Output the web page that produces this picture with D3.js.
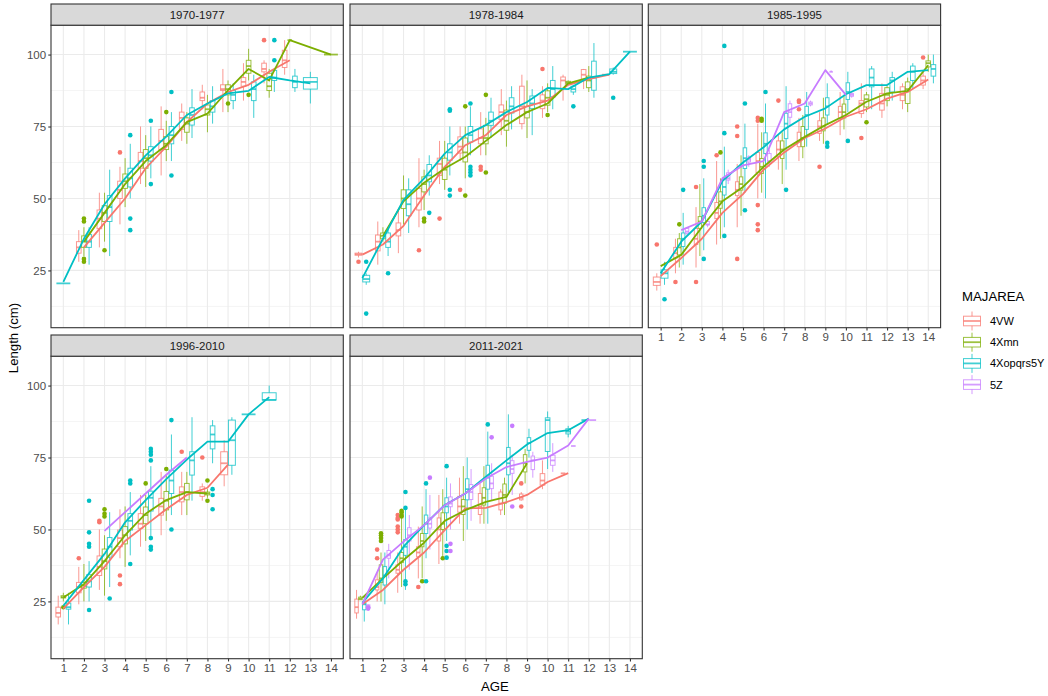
<!DOCTYPE html>
<html><head><meta charset="utf-8">
<script src="https://cdn.jsdelivr.net/npm/d3@7"></script>
<style>body{margin:0;background:#fff} svg text{font-family:"Liberation Sans",Arial,Helvetica,sans-serif}</style>
</head><body><svg id="c" width="1048" height="696"></svg>
<script>
// ---------------- DATA ----------------
const periods = ["1970-1977","1978-1984","1985-1995","1996-2010","2011-2021"];
const areas = ["4VW","4Xmn","4Xopqrs5Y","5Z"];          // area index 0..3
const areaColors = ["#F8766D","#7CAE00","#00BFC4","#C77CFF"];
const ageTicks = [1,2,3,4,5,6,7,8,9,10,11,12,13,14];
const lengthTicks = [25,50,75,100];
const lengthMinor = [12.5,37.5,62.5,87.5];

// boxes: [area, AGE, lower whisker, Q1, median, Q3, upper whisker]
const boxes_1970_1977 = [
 [2,1,20.5,20.5,20.5,20.5,20.5],
 [0,2,28,31,33,35,39],[1,2,30,33,35,37,40],[2,2,27,33,35,37.5,40],
 [0,3,33,39.5,43,46,52],[1,3,35,42,45,47.5,52],[2,3,30,42,47,51,60],
 [0,4,41,50,53,56,61],[1,4,47,53.5,56,58.5,64],[2,4,50,54,57,60.5,69],
 [0,5,55,60.5,63,66,75],[1,5,54,60.5,64,67,72],[2,5,57,63,65,68,75],
 [0,6,58,67,70,74,82],[1,6,63,67,69,71.5,77],[2,6,63,69,72,75,80],
 [0,7,70,74,78,80,83],[1,7,69,73,76,78,80],[2,7,71,75.5,79,81.5,88],
 [0,8,81,84,85,87,89.5],[1,8,73,79,81,82.5,86],[2,8,76,80,82,84,89],
 [0,9,80,87.5,88,89.5,95],[1,9,80,86,88,89.5,91],[2,9,81,84,86,87.5,90],
 [0,10,84,89,90.5,92,97],[1,10,91,93.5,96,98,102],[2,10,78,84,88,90.5,93],
 [0,11,90,94,95,97,98],[1,11,85,87.5,89,93.5,95],[2,11,87,91,92,94.5,95],
 [0,12,93,95.5,98,101.5,105],[1,12,105,105,105,105,105],[2,12,87,88.5,90.5,92.5,95],
 [2,13,83,88,90.5,92,94],
 [1,14,100,100,100,100,100]
];
// outliers: [area, AGE, length]
const outliers_1970_1977 = [
 [1,2,42],[1,2,43],[1,2,28],[1,2,29],[1,3,32],[0,4,66],[2,4,72],[2,4,43],[2,4,39],
 [2,5,77],[2,5,55],[1,6,80],[2,6,87],[2,6,58],[1,9,83],[1,10,86],[0,11,105],[2,11,105],[2,11,98]
];
// smoothed trend: [area, AGE, length]
const smooth_1970_1977 = [
 [0,2,33],[0,3,41.5],[0,4,50],[0,5,60.5],[0,6,68],[0,7,76.5],[0,8,83],[0,9,87],[0,10,89.5],[0,11,94],[0,12,98],
 [1,2,35],[1,3,45],[1,4,55],[1,5,63],[1,6,68.5],[1,7,76.5],[1,8,79.5],[1,9,87.6],[1,10,95],[1,11,91],[1,12,105],[1,13,102.5],[1,14,100],
 [2,1,21],[2,2,36],[2,3,48],[2,4,57],[2,5,65],[2,6,71.5],[2,7,79],[2,8,83],[2,9,86.5],[2,10,87.4],[2,11,92.2],[2,12,91],[2,13,90]
];

const boxes_1978_1984 = [
 [0,1,29.5,30.3,30.6,31,31.5],[2,1,20,21,22,23.3,24],
 [0,2,27,31.8,35,37.3,42],[1,2,35,36,37,38,40],[2,2,30,33,35,38,40],
 [0,3,31,37,39,41.5,46],[1,3,41,46.5,50,53,58],[2,3,38,44,48,53,57],
 [0,4,40,46,50,53.5,64],[1,4,46,52.3,55,57.5,60],[2,4,51,55.8,58,61.8,65],
 [0,5,55,58,62,64,70],[1,5,53,56.6,60,64,70],[2,5,58,63.3,66,69,75],
 [0,6,63,65.8,68,71.4,75],[1,6,57,62.7,66,71,75],[2,6,65,69.6,72,75,82],
 [0,7,65,69,71,74.2,80],[1,7,65,69,71,75.4,78],[2,7,71,75.4,77,80,85],
 [0,8,72,77.5,80,82.5,88],[1,8,68,73.7,77,80.7,84],[2,8,74,79.7,82,85,89],
 [0,9,74,76,82,89,93],[1,9,71,78,80,82,91],[2,9,72,81.2,83,85.6,88],
 [0,10,78,81.2,84,86,89],[1,10,80,82.4,85,87.4,90],[2,10,81,85.3,88,91,96],
 [0,11,84,88.2,91,92.2,93],[1,11,89.5,90,90.3,90.7,91],[2,11,86,87,88,89,89.5],
 [0,12,88,91.4,93,94.8,95],[1,12,87,88.5,91,92.5,96],[2,12,85,87.6,92,97.7,104],
 [0,13,93,93,93,93,93],[2,13,93,93.4,94,95,95.5],
 [2,14,101,101,101,101,101]
];
const outliers_1978_1984 = [
 [0,1,28],[2,1,28],[2,1,10],[2,2,24],[0,4,32],[1,4,43],[1,4,42],[2,4,45],[0,5,43],
 [2,5,81],[2,5,80.5],[2,5,53],[2,5,51],[0,6,53],[1,6,82],[1,6,51],
 [2,6,83],[2,6,61],[2,6,60],[2,6,59],[2,6,58],[0,7,61],[0,7,60],[1,7,86],[1,7,59],
 [0,10,95],[1,10,79],[2,11,82],[2,13,85]
];
const smooth_1978_1984 = [
 [0,1,30.5],[0,2,34],[0,3,40.5],[0,4,51],[0,5,61],[0,6,68.5],[0,7,72],[0,8,79],[0,9,82],[0,10,84],[0,11,89.5],[0,12,91.5],[0,13,93],
 [1,2,37],[1,3,49],[1,4,55.5],[1,5,60.4],[1,6,64.5],[1,7,70],[1,8,75.5],[1,9,80],[1,10,83],[1,11,90],[1,12,92],
 [2,1,22.3],[2,2,36],[2,3,49.5],[2,4,57],[2,5,65.6],[2,6,72],[2,7,75.5],[2,8,80],[2,9,83.5],[2,10,88.4],[2,11,88],[2,12,92],[2,13,93.2],[2,14,101]
];

const boxes_1985_1995 = [
 [0,1,18,19.8,21,22.7,24],[2,1,20,22.3,24,25.2,28],
 [0,2,24,29.3,31,33,36],[1,2,26,30.4,33,36,38],[2,2,27,33.3,36,38,45],[3,2,37,37.9,38.5,39.6,40],
 [0,3,26,34,36,39.6,47],[1,3,30,39.6,42,43.7,55],[2,3,32,41.7,44,46.8,57],[3,3,40,40.8,41,42,43],
 [0,4,34,43,45,48.6,63],[1,4,36,46.6,49,52.3,57],[2,4,40,51.2,54,57,68],[3,4,55,56.4,57,58.9,60],
 [0,5,40,51,53,55.8,62],[1,5,44,52.9,55,57.5,65],[2,5,52,60.4,64,67.6,76],[3,5,61,62.7,63.5,64.4,65],
 [0,6,50,59,63,66,76],[1,6,52,58.7,61,63.9,73],[2,6,50,65.6,69,72.8,83],[3,6,61,62.6,63,65.6,67],
 [0,7,60,64.5,67,70,72],[1,7,55,63.9,67,70,73],[2,7,60,70.8,76,79.6,89],[3,7,75,78.2,80,82.9,84],
 [0,8,63,68,70,73,78],[1,8,64,68,71,75,79],[2,8,68,74,79,82,87],[3,8,82,82.5,83,83.5,84],
 [0,9,70,72.6,75,77,80],[1,9,69,73.5,75,78,85],[2,9,76,79,82,85,90],[3,9,94,94,94,94,94.5],
 [0,10,72,77.8,80,82,87],[1,10,74,78,80,82.8,86],[2,10,80,84.4,87,90.2,94],[3,10,85,85.5,86,86.5,87],
 [0,11,78,79.5,83,84,90],[1,11,80,81.8,84.5,86,87],[2,11,81,88.8,92,95,96],
 [0,12,78,80.7,83,86.5,90],[1,12,82,84,86,88.5,89],[2,12,84,87,91,92,94],
 [0,13,81,84,86,88.8,90],[1,13,80,83,88,90.5,92],[2,13,88,91,94,96,97],
 [0,14,88,89.4,91,92.5,94],[1,14,94,95.7,97,97.8,100],[2,14,90,92.5,95,96.5,100]
];
const outliers_1985_1995 = [
 [0,1,34],[2,1,15],[0,2,21],[1,2,41],[2,2,53],[0,3,54],[0,3,21],[2,3,63],[2,3,61],[2,3,29],
 [0,4,65],[1,4,66],[2,4,103],[2,4,72.7],[2,4,37],[0,5,75],[0,5,71.7],[0,5,29],[2,5,83],[2,5,45.9],
 [0,6,78],[0,6,77],[0,6,47.7],[0,6,41],[0,6,39],[1,6,77.7],[1,6,77],[2,6,87],
 [0,7,84],[2,7,53],[0,8,84],[0,8,83.5],[0,8,81],[0,9,61],[2,9,69.3],[2,9,68],[2,10,70],
 [0,11,71],[1,11,76.5],[0,14,99]
];
const smooth_1985_1995 = [
 [0,1,23],[0,2,29.3],[0,3,36],[0,4,45],[0,5,51.5],[0,6,60],[0,7,66],[0,8,71],[0,9,74.3],[0,10,78.4],[0,11,81],[0,12,84.7],[0,13,87],[0,14,91.3],
 [1,1,26.5],[1,2,30.4],[1,3,40],[1,4,49],[1,5,54],[1,6,61],[1,7,67],[1,8,71.4],[1,9,75.5],[1,10,79],[1,11,83.6],[1,12,86.5],[1,13,87.4],[1,14,96.3],
 [2,1,24],[2,2,35],[2,3,42],[2,4,56],[2,5,62.5],[2,6,67.8],[2,7,74],[2,8,78.4],[2,9,81.3],[2,10,86.2],[2,11,89.4],[2,12,89.4],[2,13,94],[2,14,94.6],
 [3,2,39],[3,3,42],[3,4,57],[3,5,61.5],[3,6,63],[3,7,80],[3,8,83],[3,9,94.6],[3,10,86]
];

const boxes_1996_2010 = [
 [0,1,17,19.6,21,23,27],[1,1,25,26.2,26.5,27,28],[2,1,17,22.3,23,24.4,28],
 [0,2,24,28,30,31.6,37],[1,2,25,29.6,30.5,31.6,38],[2,2,25,30,32,34.3,39],
 [0,3,29,34,37,40.8,50],[1,3,27,36.3,39,43.2,48],[2,3,30,40.4,44,47.2,56],
 [0,4,40,44,47,49.8,57],[1,4,37,45,48,51,58],[2,4,41,49.8,53,55.5,63],
 [0,5,44,50.4,52,55.5,62],[1,5,46,52,55,57.8,62],[2,5,47,56.4,61,63.3,72],
 [0,6,48,55,58,60.8,70],[1,6,53,56.8,60,63.2,69],[2,6,55,62.5,67,70.6,83],
 [0,7,55,59.6,63,64.8,70],[1,7,55,60.3,63,66,70],[2,7,60,68.9,74,77,89],
 [0,8,60,61.5,63,64.8,66],[1,8,61,62,62.5,63,64],[2,8,73,78,83,86,88],
 [0,9,65,69,73,77,81],[2,9,69,72.3,81,88,89],
 [2,10,90,90,90,90,90],
 [2,11,95,95,95,97.5,100]
];
const outliers_1996_2010 = [
 [1,1,23],[0,2,40],[2,2,60],[2,2,49],[2,2,45],[2,2,44],[2,2,22],[0,3,53],[0,3,52.5],
 [1,3,57],[1,3,55.5],[1,3,54.5],[2,3,26],[0,4,34],[0,4,31],[2,4,67],[2,4,66],[2,4,38],
 [1,5,66],[2,5,78],[2,5,77],[2,5,76],[2,5,74],[2,5,47],[2,5,44],[2,5,43],[1,6,71],[2,6,88],[2,6,50],
 [0,7,77],[0,8,75],[1,8,67],[1,8,60],[2,8,64],[2,8,62],[2,8,57]
];
const smooth_1996_2010 = [
 [0,1,22.5],[0,2,30],[0,3,37],[0,4,46],[0,5,51.5],[0,6,57],[0,7,62],[0,8,64.5],[0,9,72.5],
 [1,1,26.4],[1,2,31],[1,3,39],[1,4,48],[1,5,55.5],[1,6,60.2],[1,7,63],[1,8,62.5],
 [2,1,23.5],[2,2,32.5],[2,3,41.5],[2,4,52.5],[2,5,60.2],[2,6,67.5],[2,7,74.3],[2,8,80.5],[2,9,80.5],[2,10,90],[2,11,96],
 [3,3,49.5],[3,4,56],[3,5,62.5],[3,6,69],[3,7,75]
];

const boxes_2011_2021 = [
 [0,1,19,21,23,25.8,29],[1,1,25.5,25.6,26,26.5,27],[2,1,18,22.1,24,24.4,27],[3,1,22.5,22.8,23,23.8,24],
 [0,2,25,29,30,32.5,35],[1,2,25,31.6,33,37.7,42],[2,2,24,30.7,34,37.1,42],[3,2,33,40,41,42.7,45],
 [0,3,28,34.8,36,37.7,42],[1,3,30,38.5,40,42,55],[2,3,29,41,44,46.5,57],[3,3,36,46,48,50.6,55],
 [0,4,33,40.5,42,44,51],[1,4,33,44,46,48.6,58],[2,4,40,48.6,52,55,64],[3,4,43,50.5,52,54,62],
 [0,5,38,46,50,54,62],[1,5,40,50,52,55.8,64],[2,5,46,55.8,58,61,68],[3,5,50,57.9,59,61.3,66],
 [0,6,52,56,58,61.5,68],[1,6,46,55.2,58,60.4,72],[2,6,50,60.3,64,67.6,75],[3,6,53,60.4,63,65.6,71],
 [0,7,52,55.2,58,62.5,66],[1,7,52,58.5,61,64.5,72],[2,7,52,64,68,72.3,84],[3,7,60,64.2,66,68.5,73],
 [0,8,55,56.8,59,63,64],[1,8,55,59.1,62,65.8,68],[2,8,62,69,73,78.5,90],[3,8,62,69.5,71,73.9,76],
 [0,9,60,60.3,61,62.3,63],[1,9,66,70,73,76,78],[2,9,75,77.5,80,81.9,85],[3,9,68,70.8,74,75.5,77],
 [0,10,64,65.4,67,69.4,74],[2,10,71,77.1,88,88.8,91],[3,10,70,72.3,74,75.8,80],
 [0,11,69.5,69.5,69.5,69.5,69.5],[2,11,82,83.2,84,85,86],[3,11,79,79,79,79,79],
 [2,12,88,88,88,88,88],[3,12,88,88,88,88,88]
];
const outliers_2011_2021 = [
 [3,1,23],[3,1,22.5],[0,2,43],[0,2,40],[1,2,48.7],[1,2,48],[1,2,47],[1,2,46],
 [0,3,55],[0,3,54],[0,3,53.5],[0,3,51],[0,3,50],[0,3,49],[1,3,56.5],[1,3,56],[1,3,55],[1,3,54.5],
 [2,3,63],[2,3,57.5],[2,3,32],[2,3,31],[0,4,30],[1,4,32],[2,4,66],[2,4,32],[3,4,68],
 [1,5,40],[2,5,72],[2,5,44.3],[2,5,42.5],[2,5,40.2],[3,5,45],[3,5,42.5],
 [2,7,86.5],[3,7,82],[3,8,86],[3,8,58],[0,9,66],[0,9,58]
];
const smooth_2011_2021 = [
 [0,1,24],[0,2,29],[0,3,36],[0,4,42],[0,5,49.8],[0,6,57.3],[0,7,57.5],[0,8,59.5],[0,9,62],[0,10,66.5],[0,11,69.6],
 [1,1,26.2],[1,2,33],[1,3,39.4],[1,4,45.4],[1,5,53],[1,6,56.7],[1,7,59.6],[1,8,61.3],[1,9,73],
 [2,1,24.5],[2,2,33],[2,3,44],[2,4,51.5],[2,5,58.5],[2,6,62.5],[2,7,68.3],[2,8,74],[2,9,79.5],[2,10,83.5],[2,11,84.5],[2,12,88.5],
 [3,1,24],[3,2,39.5],[3,3,45.8],[3,4,51.5],[3,5,58.4],[3,6,62.5],[3,7,67.7],[3,8,71.7],[3,9,73.5],[3,10,75],[3,11,79.2],[3,12,88.5]
];

// ---------------- DRAWING ----------------
const panelData = [
 [boxes_1970_1977, outliers_1970_1977, smooth_1970_1977],
 [boxes_1978_1984, outliers_1978_1984, smooth_1978_1984],
 [boxes_1985_1995, outliers_1985_1995, smooth_1985_1995],
 [boxes_1996_2010, outliers_1996_2010, smooth_1996_2010],
 [boxes_2011_2021, outliers_2011_2021, smooth_2011_2021]
];

const svg = d3.select("#c");
const colLeft = [51, 350, 648.3], pw = 292.3;
const stripTop = [4, 335], stripH = 21.2, ph = 302.5;
const gridCol = "#EBEBEB", darkCol = "#333333", tickTxt = "#4D4D4D";

periods.forEach((period, i) => {
  const col = i % 3, row = Math.floor(i / 3);
  const x0 = colLeft[col], st = stripTop[row], y0 = st + stripH;
  const x = d3.scaleLinear().domain([0.4, 14.6]).range([x0, x0 + pw]);
  const y = d3.scaleLinear().domain([5.1, 110.2]).range([y0 + ph, y0]);
  const g = svg.append("g");
  g.append("rect").attr("x", x0).attr("y", y0).attr("width", pw).attr("height", ph).attr("fill", "#fff");
  g.selectAll(null).data(lengthMinor).join("line")
    .attr("x1", x0).attr("x2", x0 + pw).attr("y1", d => y(d)).attr("y2", d => y(d))
    .attr("stroke", gridCol).attr("stroke-width", 0.55);
  g.selectAll(null).data(lengthTicks).join("line")
    .attr("x1", x0).attr("x2", x0 + pw).attr("y1", d => y(d)).attr("y2", d => y(d))
    .attr("stroke", gridCol).attr("stroke-width", 1.1);
  g.selectAll(null).data(ageTicks).join("line")
    .attr("y1", y0).attr("y2", y0 + ph).attr("x1", d => x(d)).attr("x2", d => x(d))
    .attr("stroke", gridCol).attr("stroke-width", 1.1);

  const [boxes, outs, smooth] = panelData[i];
  // dodge boxes within each age
  const placed = [];
  d3.group(boxes, d => d[1]).forEach((arr, age) => {
    arr = arr.slice().sort((a, b) => a[0] - b[0]);
    const n = arr.length, slot = 0.75 / n;
    arr.forEach((b, k) => placed.push({
      area: b[0], age, lo: b[2], q1: b[3], med: b[4], q3: b[5], hi: b[6],
      cx: age - 0.375 + slot * (k + 0.5), w: slot * 0.9
    }));
  });
  const centerOf = (a, age) => { const p = placed.find(q => q.area === a && q.age === age); return p ? p.cx : age; };

  const bg = g.append("g");
  placed.forEach(b => {
    const c = areaColors[b.area];
    const cx = x(b.cx), hw = (x(b.cx + b.w / 2) - x(b.cx - b.w / 2)) / 2;
    const s = bg.append("g").attr("stroke", c).attr("stroke-opacity", 0.75).attr("fill", "none");
    s.append("line").attr("x1", cx).attr("x2", cx).attr("y1", y(b.hi)).attr("y2", y(b.q3)).attr("stroke-width", 1);
    s.append("line").attr("x1", cx).attr("x2", cx).attr("y1", y(b.q1)).attr("y2", y(b.lo)).attr("stroke-width", 1);
    s.append("rect").attr("x", cx - hw).attr("y", y(b.q3)).attr("width", 2 * hw)
      .attr("height", Math.max(0, y(b.q1) - y(b.q3))).attr("fill", "#fff").attr("fill-opacity", 0.3).attr("stroke-width", 1);
    s.append("line").attr("x1", cx - hw).attr("x2", cx + hw).attr("y1", y(b.med)).attr("y2", y(b.med)).attr("stroke-width", 1.8);
  });
  g.selectAll(null).data(outs).join("circle")
    .attr("cx", d => x(centerOf(d[0], d[1]))).attr("cy", d => y(d[2])).attr("r", 2.3)
    .attr("fill", d => areaColors[d[0]]);

  const line = d3.line().x(d => x(d[1])).y(d => y(d[2])).curve(d3.curveLinear);
  d3.group(smooth, d => d[0]).forEach((arr, a) => {
    g.append("path").attr("d", line(arr.slice().sort((p, q) => p[1] - q[1])))
      .attr("fill", "none").attr("stroke", areaColors[a]).attr("stroke-width", 1.8)
      .attr("stroke-linejoin", "round");
  });

  g.append("rect").attr("x", x0).attr("y", y0).attr("width", pw).attr("height", ph)
    .attr("fill", "none").attr("stroke", darkCol).attr("stroke-width", 1.1);
  // strip
  g.append("rect").attr("x", x0).attr("y", st).attr("width", pw).attr("height", stripH)
    .attr("fill", "#D9D9D9").attr("stroke", darkCol).attr("stroke-width", 1.1);
  g.append("text").attr("x", x0 + pw / 2).attr("y", st + stripH / 2 + 4).attr("text-anchor", "middle")
    .attr("font-size", 11.5).attr("fill", "#1A1A1A").text(period);

  if (col === 0) {
    const ax = g.append("g").attr("transform", `translate(${x0},0)`)
      .call(d3.axisLeft(y).tickValues(lengthTicks).tickSize(2.74).tickPadding(2.2));
    ax.select(".domain").remove();
    ax.selectAll(".tick line").attr("stroke", darkCol).attr("stroke-width", 1.1);
    ax.selectAll(".tick text").attr("fill", tickTxt).attr("font-size", 11.5).attr("font-family", null);
  }
  if (row === 1 || col === 2) {
    const ax = g.append("g").attr("transform", `translate(0,${y0 + ph})`)
      .call(d3.axisBottom(x).tickValues(ageTicks).tickSize(2.74).tickPadding(2.2));
    ax.select(".domain").remove();
    ax.selectAll(".tick line").attr("stroke", darkCol).attr("stroke-width", 1.1);
    ax.selectAll(".tick text").attr("fill", tickTxt).attr("font-size", 11.5).attr("font-family", null);
  }
});

// axis titles
svg.append("text").attr("x", 495).attr("y", 691).attr("text-anchor", "middle")
  .attr("font-size", 13.2).attr("fill", "#000").text("AGE");
svg.append("text").attr("transform", "translate(17.5,338) rotate(-90)").attr("text-anchor", "middle")
  .attr("font-size", 13.2).attr("fill", "#000").text("Length (cm)");

// legend
const lg = svg.append("g");
lg.append("text").attr("x", 962).attr("y", 301).attr("font-size", 13.2).attr("fill", "#000").text("MAJAREA");
areas.forEach((a, k) => {
  const cy = 321 + k * 21.2, c = areaColors[k];
  const kg = lg.append("g").attr("stroke", c).attr("stroke-opacity", 0.75).attr("fill", "none");
  kg.append("line").attr("x1", 972).attr("x2", 972).attr("y1", cy - 9.5).attr("y2", cy + 9.5).attr("stroke-width", 1);
  kg.append("rect").attr("x", 963.5).attr("y", cy - 4.8).attr("width", 17).attr("height", 9.6)
    .attr("fill", "#fff").attr("stroke-width", 1);
  kg.append("line").attr("x1", 963.5).attr("x2", 980.5).attr("y1", cy).attr("y2", cy).attr("stroke-width", 1.8);
  lg.append("text").attr("x", 990).attr("y", cy + 4).attr("font-size", 11).attr("fill", "#000").text(a);
});
</script></body></html>
